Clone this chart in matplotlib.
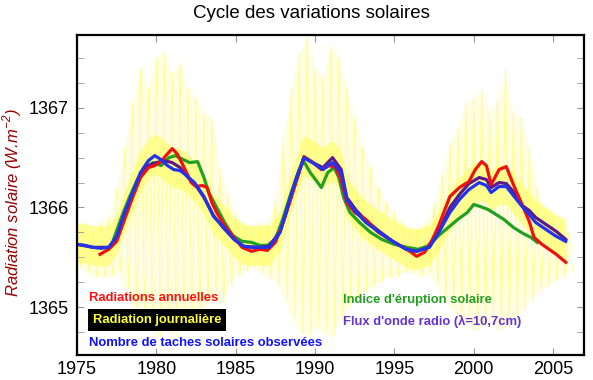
import numpy as np
import matplotlib.pyplot as plt
from matplotlib.ticker import MultipleLocator

# daily radiation (yellow): spike tops and dips, half-year steps
daily_years = np.arange(1975.0, 2006.01, 0.5)
daily_high = [1365.75, 1365.80, 1365.75, 1365.85, 1365.90, 1366.20, 1366.60, 1367.05,
              1367.40, 1367.20, 1367.50, 1367.55, 1367.35, 1367.45, 1367.20, 1367.10,
              1366.95, 1366.90, 1366.40, 1366.15, 1365.95, 1365.85, 1365.80, 1365.85,
              1365.85, 1366.10, 1366.70, 1367.20, 1367.55, 1367.72, 1367.40, 1367.30,
              1367.62, 1367.50, 1367.20, 1366.90, 1366.60, 1366.40, 1366.20, 1366.05,
              1365.95, 1365.85, 1365.80, 1365.80, 1365.85, 1366.05, 1366.35, 1366.65,
              1366.80, 1367.05, 1367.10, 1367.20, 1366.95, 1367.10, 1367.40, 1366.95,
              1366.90, 1366.60, 1366.20, 1366.00, 1365.90, 1365.85, 1365.75]
daily_low = [1365.40, 1365.35, 1365.30, 1365.30, 1365.30, 1365.35, 1365.20, 1365.00,
             1364.90, 1364.80, 1364.70, 1364.80, 1364.70, 1364.90, 1364.75, 1364.90,
             1365.00, 1365.10, 1365.00, 1365.20, 1365.30, 1365.35, 1365.40, 1365.35,
             1365.30, 1365.25, 1365.10, 1364.90, 1364.75, 1364.70, 1364.80, 1364.75,
             1364.70, 1364.85, 1365.00, 1365.10, 1365.15, 1365.20, 1365.25, 1365.30,
             1365.30, 1365.35, 1365.35, 1365.30, 1365.35, 1365.25, 1365.10, 1365.00,
             1364.90, 1364.85, 1364.75, 1364.80, 1364.90, 1364.75, 1364.80, 1364.90,
             1364.95, 1365.05, 1365.15, 1365.20, 1365.25, 1365.30, 1365.35]

# sunspot number (blue)
spot_years = [1975.0, 1975.5, 1976.0, 1976.5, 1977.0, 1977.5, 1978.0, 1978.5, 1979.0, 1979.5,
              1979.9, 1980.3, 1980.7, 1981.1, 1981.5, 1981.9, 1982.4, 1983.0, 1983.6, 1984.2,
              1984.9, 1985.5, 1986.0, 1986.5, 1987.1, 1987.8, 1988.4, 1988.8, 1989.3, 1989.85,
              1990.5, 1991.1, 1991.65, 1992.0, 1992.6, 1993.2, 1994.05, 1994.9, 1995.75, 1996.4,
              1997.2, 1997.8, 1998.5, 1999.1, 1999.7, 2000.35, 2000.8, 2001.1, 2001.6, 2002.05,
              2002.55, 2003.05, 2003.5, 2003.9, 2004.55, 2005.2, 2005.8]
spot_vals = [1365.63, 1365.62, 1365.60, 1365.59, 1365.60, 1365.71, 1365.95, 1366.15, 1366.35, 1366.47,
             1366.52, 1366.48, 1366.42, 1366.38, 1366.37, 1366.32, 1366.25, 1366.11, 1365.91, 1365.81,
             1365.68, 1365.61, 1365.60, 1365.60, 1365.60, 1365.75, 1366.08, 1366.28, 1366.50, 1366.45,
             1366.38, 1366.45, 1366.35, 1366.08, 1365.95, 1365.85, 1365.75, 1365.66, 1365.58, 1365.56,
             1365.60, 1365.75, 1365.95, 1366.08, 1366.18, 1366.25, 1366.22, 1366.15, 1366.21, 1366.21,
             1366.11, 1366.01, 1365.93, 1365.85, 1365.78, 1365.71, 1365.66]

# annual radiation (red)
annual_years = [1976.45, 1977.0, 1977.5, 1978.0, 1978.5, 1979.0, 1979.5, 1979.9, 1980.3, 1980.6,
                1981.0, 1981.3, 1981.6, 1981.9, 1982.2, 1982.5, 1982.9, 1983.2, 1983.5, 1983.8,
                1984.3, 1984.8, 1985.4, 1986.0, 1986.5, 1987.0, 1987.5, 1988.0, 1988.5, 1989.0,
                1989.3, 1989.8, 1990.4, 1990.9, 1991.3, 1991.6, 1992.0, 1992.5, 1993.2, 1994.0,
                1995.0, 1995.8, 1996.4, 1996.9, 1997.4, 1997.8, 1998.5, 1999.1, 1999.7, 2000.1,
                2000.5, 2000.8, 2001.1, 2001.6, 2002.05, 2002.55, 2003.05, 2003.5, 2003.8, 2004.3,
                2005.2, 2005.8]
annual_vals = [1365.53, 1365.58, 1365.66, 1365.88, 1366.10, 1366.30, 1366.40, 1366.42, 1366.46, 1366.52,
               1366.59, 1366.54, 1366.45, 1366.35, 1366.25, 1366.21, 1366.22, 1366.20, 1366.05, 1365.95,
               1365.82, 1365.72, 1365.60, 1365.56, 1365.58, 1365.57, 1365.65, 1365.85, 1366.10, 1366.35,
               1366.51, 1366.46, 1366.38, 1366.42, 1366.40, 1366.30, 1366.05, 1365.95, 1365.88, 1365.75,
               1365.65, 1365.58, 1365.51, 1365.55, 1365.68, 1365.82, 1366.11, 1366.20, 1366.26, 1366.38,
               1366.46, 1366.42, 1366.23, 1366.38, 1366.41, 1366.21, 1366.03, 1365.86, 1365.70, 1365.63,
               1365.53, 1365.45]

# flare index (green)
flare_years = [1977.3, 1977.8, 1978.3, 1978.8, 1979.3, 1979.8, 1980.3, 1980.8, 1981.2, 1981.7,
               1982.1, 1982.6, 1983.0, 1983.3, 1983.8, 1984.3, 1984.8, 1985.4, 1986.0, 1986.5,
               1987.0, 1987.5, 1988.0, 1988.5, 1989.0, 1989.3, 1989.7, 1990.4, 1990.8, 1991.2,
               1991.5, 1991.8, 1992.2, 1992.8, 1993.5, 1994.2, 1995.0, 1995.8, 1996.5, 1997.2,
               1997.8, 1998.4, 1999.0, 1999.6, 2000.0, 2000.4, 2000.9, 2001.4, 2001.9, 2002.5,
               2003.1, 2003.6, 2004.0]
flare_vals = [1365.68, 1365.90, 1366.10, 1366.28, 1366.40, 1366.45, 1366.42, 1366.50, 1366.52, 1366.48,
              1366.45, 1366.46, 1366.30, 1366.15, 1366.00, 1365.85, 1365.72, 1365.66, 1365.65, 1365.62,
              1365.62, 1365.68, 1365.90, 1366.15, 1366.38, 1366.46, 1366.35, 1366.20, 1366.35, 1366.40,
              1366.30, 1366.10, 1365.95, 1365.85, 1365.75, 1365.68, 1365.63, 1365.60, 1365.58, 1365.62,
              1365.72, 1365.80, 1365.88, 1365.95, 1366.03, 1366.01, 1365.98, 1365.93, 1365.88, 1365.80,
              1365.74, 1365.70, 1365.65]

# 10.7 cm radio flux (purple)
radio_years = [1975.0, 1976.0, 1977.0, 1977.5, 1978.0, 1978.5, 1979.0, 1979.5, 1980.0, 1980.5,
               1981.0, 1981.5, 1982.0, 1982.5, 1983.0, 1983.6, 1984.2, 1984.9, 1985.5, 1986.5,
               1987.1, 1987.8, 1988.4, 1988.8, 1989.3, 1989.85, 1990.5, 1991.1, 1991.65, 1992.0,
               1992.6, 1993.2, 1994.05, 1994.9, 1995.75, 1996.4, 1997.2, 1997.8, 1998.5, 1999.1,
               1999.7, 2000.35, 2000.8, 2001.1, 2001.6, 2002.05, 2002.55, 2003.05, 2003.5, 2003.9,
               2004.55, 2005.2, 2005.8]
radio_vals = [1365.63, 1365.60, 1365.60, 1365.70, 1365.93, 1366.13, 1366.33, 1366.42, 1366.45, 1366.47,
              1366.45, 1366.40, 1366.30, 1366.22, 1366.10, 1365.92, 1365.80, 1365.68, 1365.61, 1365.60,
              1365.61, 1365.76, 1366.06, 1366.28, 1366.50, 1366.45, 1366.40, 1366.50, 1366.38, 1366.10,
              1365.97, 1365.87, 1365.76, 1365.66, 1365.58, 1365.56, 1365.60, 1365.76, 1366.00, 1366.13,
              1366.24, 1366.30, 1366.28, 1366.20, 1366.25, 1366.24, 1366.15, 1366.02, 1365.97, 1365.90,
              1365.83, 1365.76, 1365.68]

fig = plt.figure(figsize=(5.93, 3.80), dpi=100)
ax = fig.add_axes([77 / 593, 25 / 380, 507 / 593, 320 / 380])

# yellow daily spikes: pale envelope, thin zigzag, denser core around the mean
zx = np.empty(2 * len(daily_years))
zy = np.empty(2 * len(daily_years))
zx[0::2] = daily_years
zx[1::2] = daily_years + 0.25
zy[0::2] = daily_high
zy[1::2] = daily_low
ax.fill_between(daily_years, daily_low, daily_high, color='#fffde2', lw=0)
ax.plot(zx, zy, color='#ffff55', lw=0.6, alpha=0.6)
sv = np.array(spot_vals)
ax.fill_between(spot_years, sv - 0.18, sv + 0.22, color='#ffff70', lw=0, alpha=0.7)

lw = 2.3
ax.plot(flare_years, flare_vals, color='#22a022', lw=lw)
ax.plot(radio_years, radio_vals, color='#5c1a8c', lw=lw)
ax.plot(annual_years, annual_vals, color='#ee1111', lw=lw)
ax.plot(spot_years, spot_vals, color='#2233ee', lw=lw)

ax.set_xlim(1975, 2006.95)
ax.set_ylim(1364.52, 1367.73)
ax.xaxis.set_major_locator(MultipleLocator(5))
ax.yaxis.set_major_locator(MultipleLocator(1))
ax.yaxis.set_minor_locator(MultipleLocator(0.25))
ax.tick_params(which='both', direction='in', color='#999999', top=True, right=True,
               labelsize=13, length=5)
ax.tick_params(axis='x', pad=4)
ax.tick_params(axis='y', pad=6)
ax.set_yticks([1365, 1366, 1367])
ax.set_yticklabels(['1365', '1366', '1367'])
for lab in ax.get_xticklabels() + ax.get_yticklabels():
    lab.set_family('Liberation Sans')
for s in ax.spines.values():
    s.set_linewidth(1.6)
    s.set_color('black')

fig.text(311 / 593, 1 - 14 / 380, 'Cycle des variations solaires', ha='center', va='center',
         fontsize=13.5, family='Liberation Sans')
fig.text(12 / 593, 1 - 203 / 380, 'Radiation solaire (W.m$^{\\mathregular{-2}}$)', rotation=90,
         ha='center', va='center', fontsize=12, style='italic', color='#990000',
         family='Liberation Sans')

kw = dict(fontsize=9.4, fontweight='bold', family='Liberation Sans', transform=fig.transFigure,
          va='center', ha='left')
fig.text(89 / 593, 1 - 298 / 380, 'Radiations annuelles', color='#ff1111', **kw)
fig.text(93 / 593, 1 - 320 / 380, 'Radiation journalière', color='#ffff33',
         bbox=dict(facecolor='black', edgecolor='none', pad=3.5), **kw)
fig.text(89 / 593, 1 - 343 / 380, 'Nombre de taches solaires observées', color='#1111ff', **kw)
fig.text(343 / 593, 1 - 300 / 380, "Indice d'éruption solaire", color='#22a022', **kw)
fig.text(343 / 593, 1 - 321 / 380, "Flux d'onde radio (λ=10,7cm)", color='#6633cc', **kw)

fig.savefig('out.png', dpi=100)
